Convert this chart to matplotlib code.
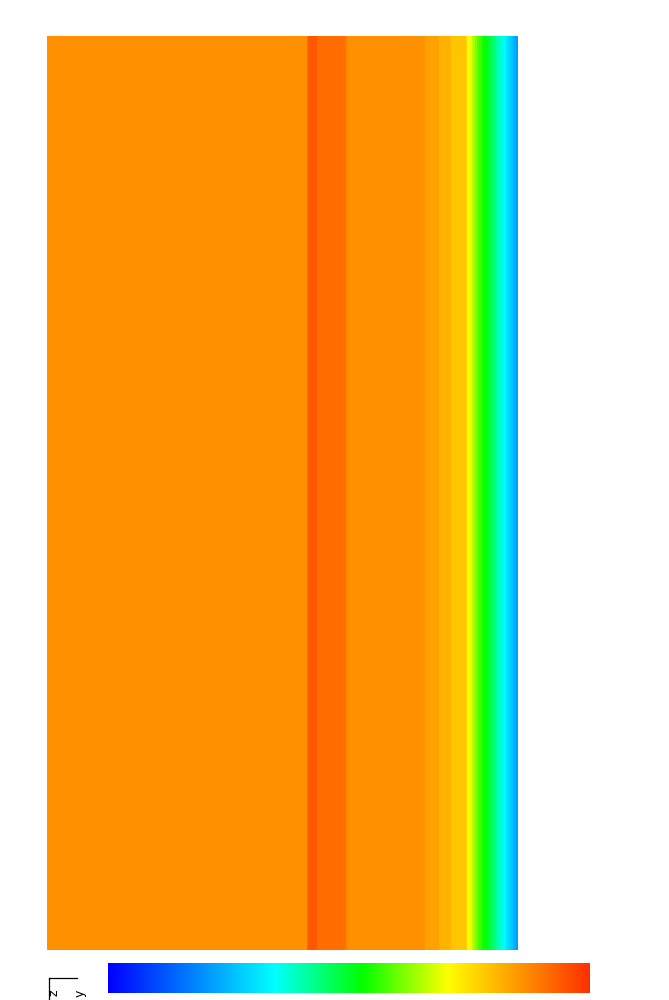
import numpy as np
import matplotlib
matplotlib.use("Agg")
import matplotlib.pyplot as plt
from matplotlib.colors import LinearSegmentedColormap, Normalize

# --- data: temperature-like profile across the section (x in px-like units from left edge)
x_nodes = [0, 260, 261, 269, 271, 298, 300, 377, 379, 392, 394, 404, 406, 419,
           420, 423, 427, 431, 437, 443, 449, 455, 461, 466, 471]
v_nodes = [0.869, 0.869, 0.935, 0.935, 0.91, 0.91, 0.869, 0.869, 0.83, 0.83, 0.805, 0.805, 0.78, 0.78,
           0.725, 0.70, 0.64, 0.58, 0.53, 0.48, 0.42, 0.36, 0.30, 0.25, 0.20]
height = 914.0

# colormap stops (position, colour)
cmap_pos = [0.0, 0.345, 0.527, 0.706, 1.0]
cmap_col = ["#0000ff", "#00ffff", "#00ff00", "#ffff00", "#ff3000"]

cmap = LinearSegmentedColormap.from_list("fem", list(zip(cmap_pos, cmap_col)))
norm = Normalize(0, 1)

fig = plt.figure(figsize=(6.69, 10.0), dpi=100)
W, H = 669.0, 1000.0
ax = fig.add_axes([47 / W, 1 - 950 / H, 471 / W, 914 / H])

xs = np.linspace(0, x_nodes[-1], 1500)
ys = np.array([0.0, height])
prof = np.interp(xs, x_nodes, v_nodes)
Z = np.tile(prof, (len(ys), 1))
levels = np.linspace(0.15, 0.95, 33)
ax.contourf(xs, ys, Z, levels=levels, cmap=cmap, norm=norm)
ax.set_xlim(0, x_nodes[-1])
ax.set_ylim(0, height)
ax.axis("off")

# colorbar
cax = fig.add_axes([108 / W, 1 - 993 / H, 482 / W, 30 / H])
grad = np.linspace(0, 1, 512)[None, :]
cax.imshow(grad, aspect="auto", cmap=cmap, norm=norm, extent=[0, 1, 0, 1])
cax.axis("off")

# axis triad fragment
tax = fig.add_axes([0, 0, 1, 1], facecolor="none")
tax.set_xlim(0, W)
tax.set_ylim(H, 0)
tax.axis("off")
tax.plot([49, 77], [978, 978], color="black", lw=0.9)
tax.plot([49, 49], [978, 1000], color="black", lw=0.9)
tax.text(54, 993, "z", rotation=90, fontsize=9, ha="center", va="center", family="DejaVu Sans")
tax.text(80, 993, "y", rotation=90, fontsize=9, ha="center", va="center", family="DejaVu Sans")

fig.savefig("out.png", dpi=100)
